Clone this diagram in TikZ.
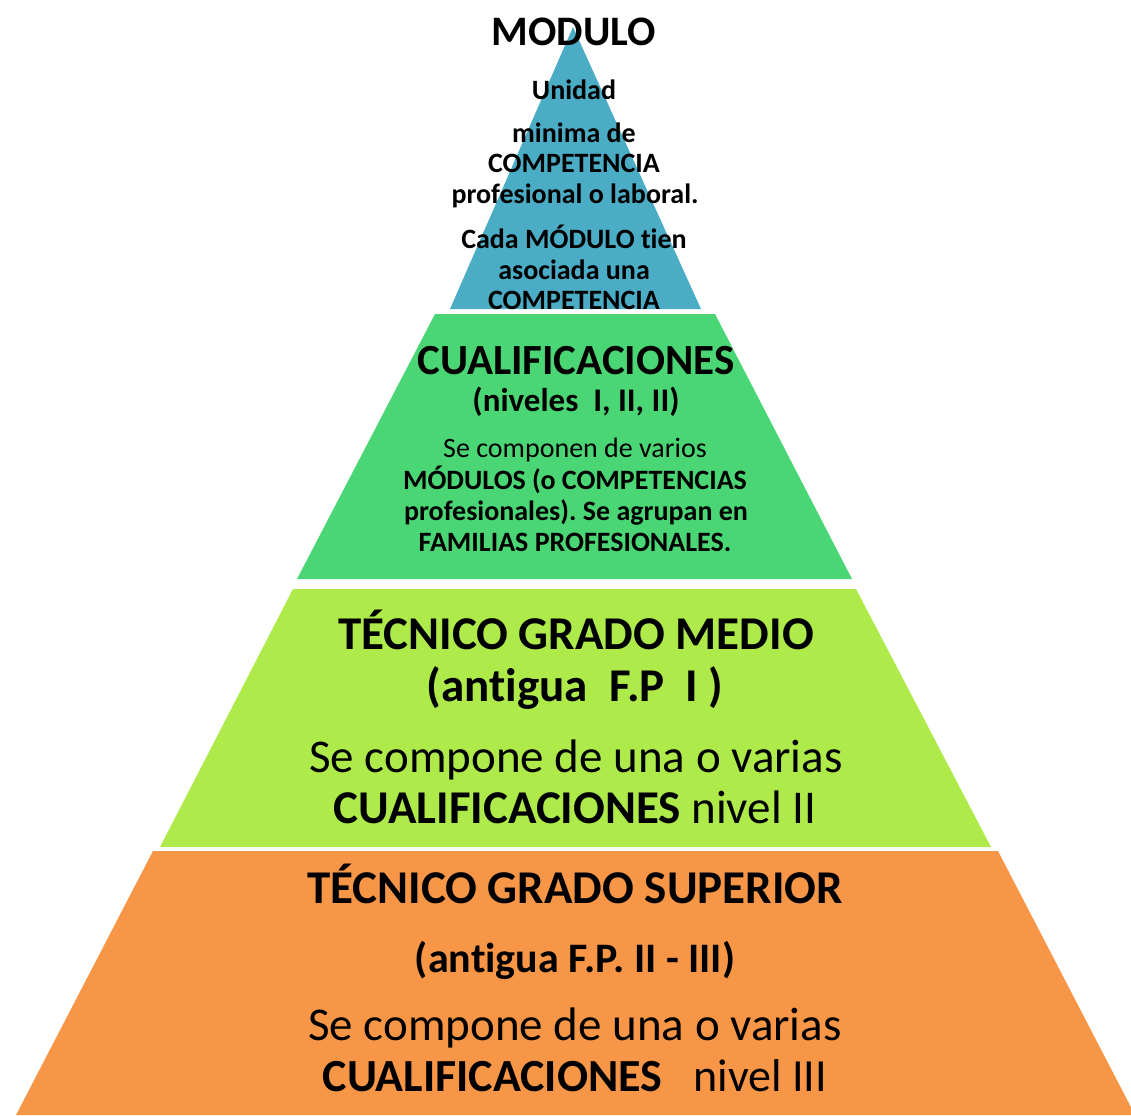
\documentclass[tikz,border=0pt]{standalone}
\usepackage{fontspec}
\setmainfont{Carlito}[Ligatures=NoCommon]
\definecolor{lyrblue}{RGB}{75,172,198}
\definecolor{lyrgreen}{RGB}{74,214,117}
\definecolor{lyrlime}{RGB}{173,234,74}
\definecolor{lyrorange}{RGB}{247,150,70}
\frenchspacing
\begin{document}
\begin{tikzpicture}[x=1pt,y=-1pt,
  txt/.style={inner sep=0pt, anchor=base, text=black}]
\useasboundingbox (0,0) rectangle (1131,1115);
% layers
\fill[lyrblue] (573,27) -- (701,309) -- (450,309) -- cycle;
\fill[lyrgreen] (435,314) -- (715,314) -- (852,579) -- (297,579) -- cycle;
\fill[lyrlime] (293,589) -- (856,589) -- (991,847) -- (160,847) -- cycle;
\fill[lyrorange] (153,851) -- (998,851) -- (1135,1115) -- (16,1115) -- cycle;
% top layer
\node[txt] (m0) at (574,46) {\fontsize{42}{42}\selectfont\bfseries MODULO};
\node[txt] (m1) at (574,100) {\fontsize{28}{28}\selectfont\bfseries Unidad};
\node[txt] (m2) at (574,143) {\fontsize{28}{28}\selectfont\bfseries minima de};
\node[txt] (m3) at (574,173) {\fontsize{28}{28}\selectfont\bfseries COMPETENCIA};
\node[txt] (m4) at (575,204) {\fontsize{28}{28}\selectfont\bfseries profesional o laboral.};
\node[txt] (m5) at (574,248) {\fontsize{28}{28}\selectfont\bfseries Cada MÓDULO tien};
\node[txt] (m6) at (574,279) {\fontsize{28}{28}\selectfont\bfseries asociada una};
\node[txt] (m7) at (574,309) {\fontsize{28}{28}\selectfont\bfseries COMPETENCIA};
% second layer
\node[txt] (c0) at (576,374) {\fontsize{43}{43}\selectfont\bfseries CUALIFICACIONES};
\node[txt] (c1) at (576,411) {\fontsize{33}{33}\selectfont\bfseries (niveles\ \ I, II, II)};
\node[txt] (c2) at (575,457) {\fontsize{28}{28}\selectfont Se componen de varios};
\node[txt] (c3) at (575,489) {\fontsize{28}{28}\selectfont\bfseries MÓDULOS (o COMPETENCIAS};
\node[txt] (c4) at (576,520) {\fontsize{28}{28}\selectfont\bfseries profesionales). Se agrupan en};
\node[txt] (c5) at (575,551) {\fontsize{28}{28}\selectfont\bfseries FAMILIAS PROFESIONALES.};
% third layer
\node[txt] (g0) at (576,649) {\fontsize{47}{47}\selectfont\bfseries TÉCNICO GRADO MEDIO};
\node[txt] (g1) at (575,701) {\fontsize{47}{47}\selectfont\bfseries (antigua\ \ F.P\ \ I )};
\node[txt] (g2) at (576,772) {\fontsize{47}{47}\selectfont Se compone de una o varias};
\node[txt] (g3) at (575,823) {\fontsize{47}{47}\selectfont\textbf{CUALIFICACIONES} nivel II};
% bottom layer
\node[txt] (s0) at (575,903) {\fontsize{47}{47}\selectfont\bfseries TÉCNICO GRADO SUPERIOR};
\node[txt] (s1) at (575,972) {\fontsize{42}{42}\selectfont\bfseries (antigua F.P. II - III)};
\node[txt] (s2) at (575,1040) {\fontsize{47}{47}\selectfont Se compone de una o varias};
\node[txt] (s3) at (575,1091) {\fontsize{46}{46}\selectfont\textbf{CUALIFICACIONES}\ \ \ nivel III};
\end{tikzpicture}
\end{document}
